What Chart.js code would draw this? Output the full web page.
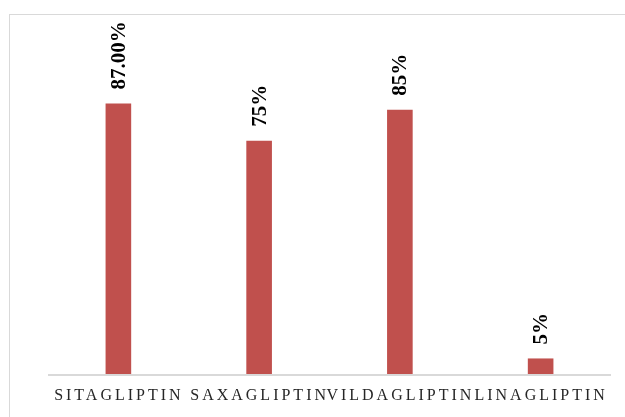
<!DOCTYPE html>
<html lang="en">
<head>
  <meta charset="UTF-8">
  <title>Gliptin usage</title>
  <script src="https://cdn.jsdelivr.net/npm/chart.js"></script>
  <style>
    body { margin: 0; background: #fff; }
    .wrap { position: relative; width: 625px; height: 417px; overflow: hidden; }
    .frame { position: absolute; left: 9px; top: 14px; width: 700px; height: 500px; border: 1px solid #d9d9d9; }
    canvas { position: absolute; left: 0; top: 0; }
  </style>
</head>
<body>
  <div class="wrap">
    <div class="frame"></div>
    <canvas id="chart" width="625" height="417"></canvas>
  </div>
  <script>
    // data
    const drugs = ['SITAGLIPTIN', 'SAXAGLIPTIN', 'VILDAGLIPTIN', 'LINAGLIPTIN'];
    const percents = [87, 75, 85, 5];
    const valueLabels = ['87.00%', '75%', '85%', '5%'];

    // draws the rotated value labels, the axis line and the spaced category names
    const labelPlugin = {
      id: 'labelPlugin',
      afterDatasetsDraw(chart) {
        const ctx = chart.ctx;
        const area = chart.chartArea;
        const meta = chart.getDatasetMeta(0);
        const xScale = chart.scales.x;

        // axis line
        ctx.save();
        ctx.strokeStyle = '#d9d9d9';
        ctx.lineWidth = 2;
        ctx.beginPath();
        ctx.moveTo(area.left, area.bottom + 1);
        ctx.lineTo(area.right, area.bottom + 1);
        ctx.stroke();
        ctx.restore();

        // values above bars
        meta.data.forEach((bar, i) => {
          ctx.save();
          ctx.translate(bar.x, bar.y - 14);
          ctx.rotate(-Math.PI / 2);
          ctx.font = 'bold 21px "Liberation Serif", "Times New Roman", serif';
          ctx.fillStyle = '#000';
          ctx.textAlign = 'left';
          ctx.textBaseline = 'middle';
          ctx.fillText(valueLabels[i], 0, 1);
          ctx.restore();
        });

        // category names
        ctx.save();
        ctx.font = '16px "Liberation Serif", "Times New Roman", serif';
        ctx.letterSpacing = '3px';
        ctx.fillStyle = '#262626';
        ctx.textAlign = 'center';
        ctx.textBaseline = 'alphabetic';
        drugs.forEach((name, i) => {
          ctx.fillText(name, xScale.getPixelForValue(i) + 0.5, area.bottom + 26);
        });
        ctx.restore();
      }
    };

    new Chart(document.getElementById('chart'), {
      type: 'bar',
      data: {
        labels: drugs,
        datasets: [{
          data: percents,
          backgroundColor: '#c0504d',
          borderWidth: 0,
          categoryPercentage: 1,
          barPercentage: 0.182
        }]
      },
      options: {
        responsive: false,
        animation: false,
        layout: { padding: { left: 48, right: 14, top: 63, bottom: 43 } },
        plugins: { legend: { display: false }, tooltip: { enabled: false } },
        scales: {
          x: { display: false },
          y: { display: false, min: 0, max: 100 }
        }
      },
      plugins: [labelPlugin]
    });
  </script>
</body>
</html>
